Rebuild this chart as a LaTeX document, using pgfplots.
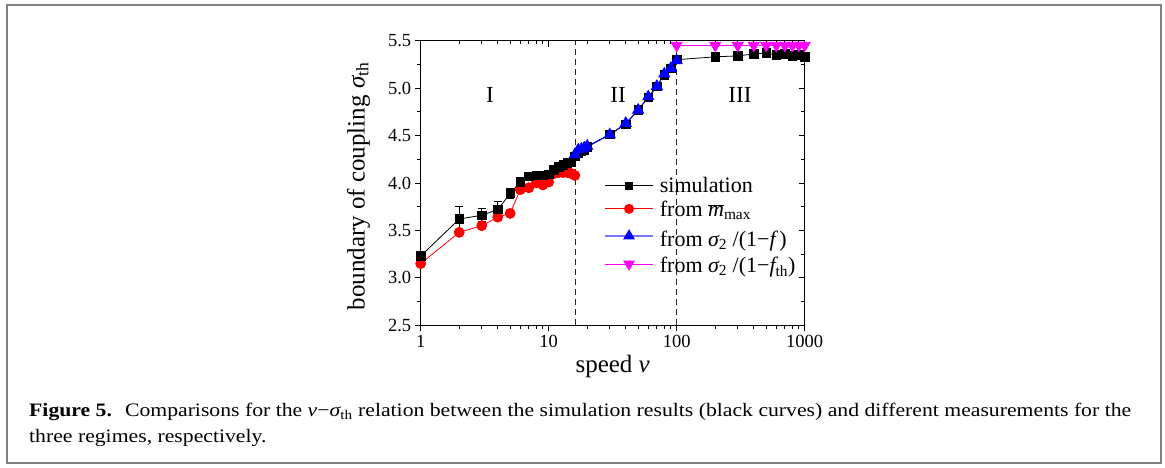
\documentclass[border=0pt]{standalone}
\usepackage{fontspec}
\setmainfont{Liberation Serif}
\usepackage{graphicx}
\usepackage{pgfplots}
\usepackage{pgfplotstable}
\pgfplotsset{compat=1.18}
\definecolor{mag}{RGB}{255,0,255}
\definecolor{lblue}{RGB}{120,120,255}

\pgfplotstableread{
x y e
1 3.23 0.03
2 3.62 0.13
3 3.66 0.07
4 3.72 0.09
5 3.89 0.05
6 4.01 0.05
7 4.07 0.02
8 4.08 0.02
9 4.08 0.02
10 4.09 0.02
11 4.14 0.02
12 4.17 0.02
13 4.19 0.02
14 4.21 0.02
15 4.22 0.02
16 4.28 0.02
17 4.31 0.02
18 4.33 0.02
19 4.35 0.02
20 4.38 0.02
30 4.51 0.01
40 4.62 0.01
50 4.77 0.01
60 4.90 0.01
70 5.02 0.01
80 5.14 0.01
90 5.21 0.01
100 5.30 0.01
200 5.33 0.01
300 5.34 0.01
400 5.36 0.01
500 5.37 0.01
600 5.35 0.01
700 5.36 0.01
800 5.34 0.01
900 5.35 0.01
1000 5.33 0.01
}\simdata

\pgfplotstableread{
x y
1 3.15
2 3.48
3 3.55
4 3.64
5 3.68
6 3.93
7 3.95
8 4.00
9 3.98
10 4.01
11 4.10
12 4.11
13 4.11
14 4.11
15 4.10
16 4.08
}\mdata

\pgfplotstableread{
x y
16 4.30
17 4.35
18 4.36
19 4.37
20 4.39
30 4.51
40 4.63
50 4.77
60 4.91
70 5.02
80 5.15
90 5.21
100 5.29
}\fdata

\pgfplotstableread{
x y
100 5.45
200 5.45
300 5.45
400 5.45
500 5.45
600 5.45
700 5.45
800 5.45
900 5.45
1000 5.45
}\fthdata

\newlength\capw
\newcommand{\capone}{\textbf{Figure 5.}\hspace{0.6em}Comparisons for the {\itshape v}−{\itshape σ}\textsubscript{th} relation between the simulation results (black curves) and different measurements for the}
\newcommand{\captwo}{three regimes, respectively.}

\begin{document}
\settowidth\capw{\fontsize{19}{26}\selectfont\capone}%
\pgfmathsetmacro\capfac{1102/\capw}%
\begin{tikzpicture}[x=1pt,y=-1pt]
\path[use as bounding box, fill=white] (0,0) rectangle (1165,468);
\draw[color=black!50, line width=2pt] (7,5) rectangle (1161,463);

\begin{axis}[at={(420.7pt,-325.3pt)}, anchor=south west,
    scale only axis, width=384pt, height=284.6pt,
    xmode=log, xmin=1, xmax=1000, ymin=2.5, ymax=5.5,
    ytick={2.5,3.0,...,5.5}, minor y tick num=1,
    xtick={1,10,100,1000},
    major tick length=6pt, minor tick length=3.5pt,
    every tick/.style={black, line width=0.8pt},
    every minor tick/.style={black, line width=0.8pt},
    axis line style={line width=0.8pt},
    xtick pos=top, ytick pos=right, tick align=inside,
    xticklabels={}, yticklabels={}]
\end{axis}

\begin{axis}[at={(420.7pt,-325.3pt)}, anchor=south west,
    scale only axis, width=384pt, height=284.6pt,
    xmode=log, xmin=1, xmax=1000, ymin=2.5, ymax=5.5,
    ytick={2.5,3.0,...,5.5}, minor y tick num=1,
    xtick={1,10,100,1000},
    major tick length=6pt, minor tick length=3.5pt,
    every tick/.style={black, line width=0.8pt},
    every minor tick/.style={black, line width=0.8pt},
    axis line style={line width=0.8pt},
  xtick pos=bottom, ytick pos=left, tick align=outside,
  xticklabels={1,10,100,1000},
  yticklabel style={/pgf/number format/.cd, fixed, fixed zerofill, precision=1},
  /pgf/number format/assume math mode=true,
  tick label style={font=\fontsize{18.5}{20}\selectfont},
  xlabel={speed {\itshape v}},
  ylabel={boundary of coupling {\itshape σ}\textsubscript{th}},
  label style={font=\fontsize{25}{28}\selectfont},
  xlabel style={at={(axis description cs:0.5,-0.143)}, anchor=center},
  ylabel style={at={(axis description cs:-0.162,0.488)}, anchor=center},
  legend image code/.code={\draw[mark repeat=2,mark phase=2,#1] plot coordinates {(0pt,0pt) (24pt,0pt) (48pt,0pt)};},
  legend style={at={(axis description cs:0.4775,0.521)}, anchor=north west,
    draw=none, fill=none, inner sep=0pt, row sep=5.6pt, column sep=6pt,
    font=\fontsize{22}{26}\selectfont,
    nodes={inner sep=0pt, anchor=west}},
  legend cell align=left,
]
\addlegendimage{black, line width=0.8pt, mark=square*, mark size=3.6pt}
\addlegendentry{\rule[-5pt]{0pt}{20pt}simulation}
\addlegendimage{red, line width=0.8pt, mark=*, mark size=4.6pt}
\addlegendentry{\rule[-7pt]{0pt}{24pt}from $\overline{\mbox{\itshape m}}$\textsubscript{max}}
\addlegendimage{lblue, line width=1.6pt, mark=triangle*, mark size=6pt, mark options={blue, fill=blue, line width=0.8pt}}
\addlegendentry{\rule[-13pt]{0pt}{36pt}from {\itshape σ}\textsubscript{2} /(1−{\itshape f\,})}
\addlegendimage{mag, line width=0.8pt, mark=triangle*, mark size=6pt, mark options={rotate=180}}
\addlegendentry{\rule[-9pt]{0pt}{28pt}from {\itshape σ}\textsubscript{2} /(1−{\itshape f}\textsubscript{th})}

\addplot[forget plot, black!85, line width=1.2pt, dash pattern=on 6pt off 4pt] coordinates {(16.3,2.5) (16.3,5.5)};
\addplot[forget plot, black!85, line width=1.2pt, dash pattern=on 6pt off 4pt] coordinates {(100,2.5) (100,5.5)};

\addplot[forget plot, red, line width=0.8pt, mark=*, mark size=5pt] table[x=x,y=y] {\mdata};
\addplot[forget plot, black, line width=0.8pt, mark=square*, mark size=4.2pt,
  error bars/.cd, y dir=both, y explicit,
  error bar style={line width=0.8pt, black},
  error mark options={rotate=90, mark size=4pt, line width=0.8pt, black}]
  table[x=x,y=y,y error=e] {\simdata};
\addplot[forget plot, blue, line width=0.8pt, mark=triangle*, mark size=6.3pt] table[x=x,y=y] {\fdata};
\addplot[forget plot, mag, line width=0.8pt, mark=triangle*, mark size=6.3pt, mark options={rotate=180}] table[x=x,y=y] {\fthdata};

\node[font=\fontsize{23}{26}\selectfont] at (axis cs:3.48,4.93) {I};
\node[font=\fontsize{23}{26}\selectfont] at (axis cs:34.8,4.93) {II};
\node[font=\fontsize{23}{26}\selectfont] at (axis cs:312,4.93) {III};
\end{axis}

\node[anchor=base west, inner sep=0pt] at (29,416) {\scalebox{\capfac}[1]{\fontsize{19}{26}\selectfont\capone}};
\node[anchor=base west, inner sep=0pt] at (29,442) {\scalebox{\capfac}[1]{\fontsize{19}{26}\selectfont\captwo}};
\end{tikzpicture}
\end{document}
